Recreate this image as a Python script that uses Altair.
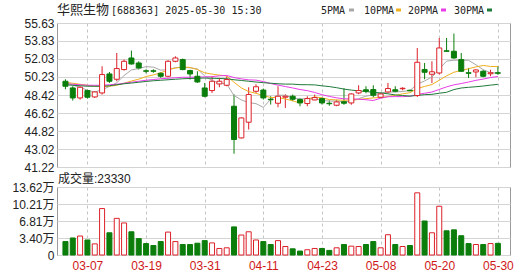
import altair as alt
import pandas as pd
import numpy as np

# ---------------- data ----------------
opens = [49.80, 49.13, 48.13, 48.87, 48.23, 48.63, 50.53, 50.00, 50.97, 52.13,
         51.63, 50.85, 50.85, 50.60, 50.30, 51.80, 51.97, 50.87, 50.30, 49.13,
         48.87, 49.53, 49.40, 47.30, 44.13, 45.70, 48.80, 48.92, 48.00, 47.60,
         48.20, 48.30, 47.97, 47.57, 47.93, 48.07, 47.60, 47.40, 47.75, 47.63,
         48.63, 48.95, 48.97, 48.20, 48.73, 48.95, 49.05, 48.90, 48.37, 50.97,
         50.50, 50.63, 52.85, 52.80, 51.97, 50.65, 50.73, 50.80, 50.55, 50.65]
closes = [49.30, 48.13, 49.20, 48.20, 48.73, 50.47, 49.80, 51.07, 51.80, 51.53,
          51.13, 50.80, 50.80, 50.30, 51.80, 52.13, 50.97, 50.53, 49.73, 48.30,
          49.80, 49.80, 49.97, 43.97, 46.13, 48.47, 49.25, 48.13, 47.95, 48.30,
          48.30, 48.00, 47.63, 48.07, 48.17, 47.63, 47.55, 47.73, 47.60, 48.53,
          48.87, 48.80, 48.40, 48.53, 49.07, 48.80, 49.10, 48.85, 51.70, 50.70,
          50.75, 53.13, 52.80, 52.13, 50.80, 50.60, 50.93, 50.30, 50.65, 50.60]
highs = [50.00, 49.30, 49.30, 48.97, 48.80, 51.30, 50.73, 52.63, 51.97, 52.87,
         51.80, 51.00, 51.00, 50.70, 51.90, 52.30, 52.07, 50.95, 50.80, 49.63,
         50.30, 50.13, 50.30, 48.50, 46.20, 49.20, 49.50, 49.07, 48.30, 49.30,
         48.50, 48.47, 48.13, 48.30, 48.47, 48.20, 47.90, 47.95, 49.10, 48.60,
         49.40, 49.30, 49.40, 48.65, 49.63, 49.30, 49.20, 48.95, 53.13, 51.63,
         51.80, 54.13, 54.13, 54.57, 52.63, 51.13, 51.00, 50.95, 50.95, 51.30]
lows = [49.00, 47.87, 47.97, 48.07, 48.13, 48.47, 49.63, 49.80, 50.87, 51.47,
        50.97, 50.60, 50.65, 50.15, 50.20, 51.70, 50.90, 49.97, 49.63, 48.20,
        48.63, 49.20, 49.30, 42.55, 44.07, 44.97, 48.63, 47.97, 47.47, 47.20,
        47.13, 47.80, 47.30, 47.30, 47.90, 47.47, 47.35, 47.30, 47.45, 47.45,
        48.50, 48.60, 48.20, 48.10, 48.60, 48.70, 48.90, 48.80, 48.23, 50.00,
        49.63, 50.47, 52.75, 52.05, 50.75, 50.13, 50.20, 50.20, 50.30, 50.45]
# volume in 万 (10k lots)
volumes = [2.69, 3.41, 3.80, 3.01, 2.23, 9.30, 4.45, 7.34, 6.42, 4.65,
           3.28, 2.29, 1.90, 2.69, 4.59, 2.69, 2.10, 2.10, 2.36, 2.88,
           2.42, 1.31, 1.44, 5.63, 4.00, 4.65, 3.01, 2.69, 2.10, 2.88,
           1.70, 1.24, 0.79, 1.05, 1.31, 1.31, 0.92, 1.44, 2.10, 1.77,
           1.70, 2.10, 2.69, 1.44, 4.06, 2.10, 1.70, 1.90, 12.45, 6.81,
           4.45, 9.76, 4.85, 5.04, 3.86, 2.29, 2.10, 2.10, 2.29, 2.333]

# moving-average values before a full window is available
ma5_early = [49.70, 49.40, 49.20, 48.90]
ma10_early = [49.70, 49.60, 49.50, 49.40, 49.30, 49.30, 49.30, 49.40, 49.60]
ma20_early = [49.55, 49.50, 49.45, 49.40, 49.40, 49.40, 49.45, 49.50, 49.60, 49.70,
              49.80, 49.90, 49.97, 50.05, 50.10, 50.15, 50.20, 50.20, 50.22]
ma30_early = [49.45, 49.40, 49.35, 49.30, 49.30, 49.30, 49.35, 49.45, 49.55, 49.62,
              49.70, 49.78, 49.85, 49.90, 49.95, 50.00, 50.05, 50.08, 50.10, 50.12,
              50.10, 50.08, 50.05, 49.95, 49.88, 49.80, 49.72, 49.66, 49.60]

price_ticks = [41.22, 43.02, 44.82, 46.62, 48.42, 50.23, 52.03, 53.83, 55.63]
vol_ticks = [0, 3.40, 6.81, 10.21, 13.62]
date_tick_idx = [3, 11, 19, 27, 35, 43, 51, 59]
date_tick_labels = ["03-07", "03-19", "03-31", "04-11", "04-23", "05-08", "05-20", "05-30"]

ma_names = ["5PMA", "10PMA", "20PMA", "30PMA"]
ma_colors = ["#a8a8a8", "#f0b020", "#e83ce8", "#1f7a3a"]

title_cn = "华熙生物"
title_rest = "[688363] 2025-05-30 15:30"
vol_title = "成交量:23330"

RED = "#dc2028"
GREEN = "#0a7d0a"

# ---------------- tables ----------------
n = len(closes)
df = pd.DataFrame({"i": np.arange(n), "open": opens, "close": closes,
                   "high": highs, "low": lows, "vol": volumes})
up = df["close"] >= df["open"]
df["col"] = np.where(up, RED, GREEN)
df["fill"] = np.where(up, "#ffffff", GREEN)


def moving_avg(w, early):
    s = pd.Series(closes).rolling(w).mean().to_numpy()
    s[:w - 1] = early
    return s


ma_frames = []
for name, w, early in zip(ma_names, [5, 10, 20, 30], [ma5_early, ma10_early, ma20_early, ma30_early]):
    ma_frames.append(pd.DataFrame({"i": np.arange(n), "value": moving_avg(w, early), "series": name}))
ma_df = pd.concat(ma_frames, ignore_index=True)

one = pd.DataFrame({"a": [0]})

# ---------------- scales / axes ----------------
W = 453
xscale = alt.Scale(domain=[-0.47, 59.97], nice=False, zero=False)
grid_col = "#d4d4d4"

label_expr = ""
for idx, lab in zip(date_tick_idx, date_tick_labels):
    label_expr += f"datum.value == {idx} ? '{lab}' : "
label_expr += "''"

x_top = alt.X("i:Q", scale=xscale, title=None,
              axis=alt.Axis(values=date_tick_idx, labels=False, ticks=False, domain=False,
                            grid=True, gridDash=[3, 3], gridColor="#c4c4c4"))
x_bot = alt.X("i:Q", scale=xscale, title=None,
              axis=alt.Axis(values=date_tick_idx, labelExpr=label_expr, ticks=False, domain=False,
                            grid=True, gridDash=[3, 3], gridColor="#c4c4c4",
                            labelColor="#d01818", labelFont="Liberation Sans", labelFontSize=12,
                            labelPadding=5, labelFlush=False, labelOverlap=False))

yscale = alt.Scale(domain=[41.22, 55.63], nice=False, zero=False)
y_axis = alt.Axis(values=price_ticks, format=".2f", grid=True, gridColor=grid_col, ticks=False,
                  domain=False, labelFont="Liberation Sans", labelFontSize=12, labelColor="#222222",
                  labelPadding=3, labelOverlap=False, labelFlush=False, minExtent=45, maxExtent=45)

vscale = alt.Scale(domain=[0, 13.62], nice=False, zero=True)
v_axis = alt.Axis(values=vol_ticks, grid=True, gridColor=grid_col, ticks=False, domain=False,
                  labelExpr="datum.value == 0 ? '0' : format(datum.value, '.2f') + '万'",
                  labelFont="Liberation Sans, Noto Sans CJK SC", labelFontSize=12,
                  labelColor="#222222", labelPadding=3, labelOverlap=False, labelFlush=False,
                  minExtent=45, maxExtent=45)

base = alt.Chart(df)

wicks = base.mark_rule(strokeWidth=1).encode(
    x=x_top,
    y=alt.Y("low:Q", scale=yscale, axis=y_axis, title=None),
    y2="high:Q",
    color=alt.Color("col:N", scale=None),
)
bodies = base.mark_bar(size=5, strokeWidth=1).encode(
    x=x_top,
    y=alt.Y("open:Q", scale=yscale, axis=y_axis, title=None),
    y2="close:Q",
    fill=alt.Fill("fill:N", scale=None),
    stroke=alt.Stroke("col:N", scale=None),
)
ma_lines = alt.Chart(ma_df).mark_line(strokeWidth=1).encode(
    x=x_top,
    y=alt.Y("value:Q", scale=yscale, axis=y_axis, title=None),
    color=alt.Color("series:N", scale=alt.Scale(domain=ma_names, range=ma_colors), legend=None),
    order="i:Q",
)

t1 = alt.Chart(one).mark_text(text=title_cn, align="left", baseline="alphabetic",
                              font="Noto Sans CJK SC", fontSize=13, color="#222222").encode(
    x=alt.value(0), y=alt.value(-9.5))
t2 = alt.Chart(one).mark_text(text=title_rest, align="left", baseline="alphabetic",
                              font="DejaVu Sans Mono", fontSize=10, color="#222222").encode(
    x=alt.value(54), y=alt.value(-9.5))

legend_layers = []
leg_text_x = [264, 307, 351, 397]
leg_box_x = [292, 339, 384, 430]
for name, col, tx, bx in zip(ma_names, ma_colors, leg_text_x, leg_box_x):
    legend_layers.append(alt.Chart(one).mark_text(text=name, align="left", baseline="alphabetic",
                                                  font="DejaVu Sans Mono", fontSize=10,
                                                  color="#222222").encode(
        x=alt.value(tx), y=alt.value(-9.5)))
    legend_layers.append(alt.Chart(one).mark_rect(color=col).encode(
        x=alt.value(bx), x2=alt.value(bx + 5), y=alt.value(-14.5), y2=alt.value(-11.5)))

price = alt.layer(wicks, ma_lines, bodies, t1, t2, *legend_layers).properties(width=W, height=144)

vol_bars = base.mark_bar(size=5, strokeWidth=1).encode(
    x=x_bot,
    y=alt.Y("vol:Q", scale=vscale, axis=v_axis, title=None),
    y2=alt.datum(0),
    fill=alt.Fill("fill:N", scale=None),
    stroke=alt.Stroke("col:N", scale=None),
)
vt = alt.Chart(one).mark_text(text=vol_title, align="left", baseline="alphabetic",
                              font="Liberation Sans, Noto Sans CJK SC", fontSize=12,
                              color="#222222").encode(x=alt.value(1), y=alt.value(-4.5))
volume = alt.layer(vol_bars, vt).properties(width=W, height=68)

chart = alt.vconcat(price, volume, spacing=-2).properties(
    padding={"left": 11, "top": 3, "right": 0, "bottom": 0},
    background="#ffffff",
).configure_view(stroke="#9a9a9a", strokeWidth=1)

chart.save("out.html", embed_options={"renderer": "svg", "actions": False})
